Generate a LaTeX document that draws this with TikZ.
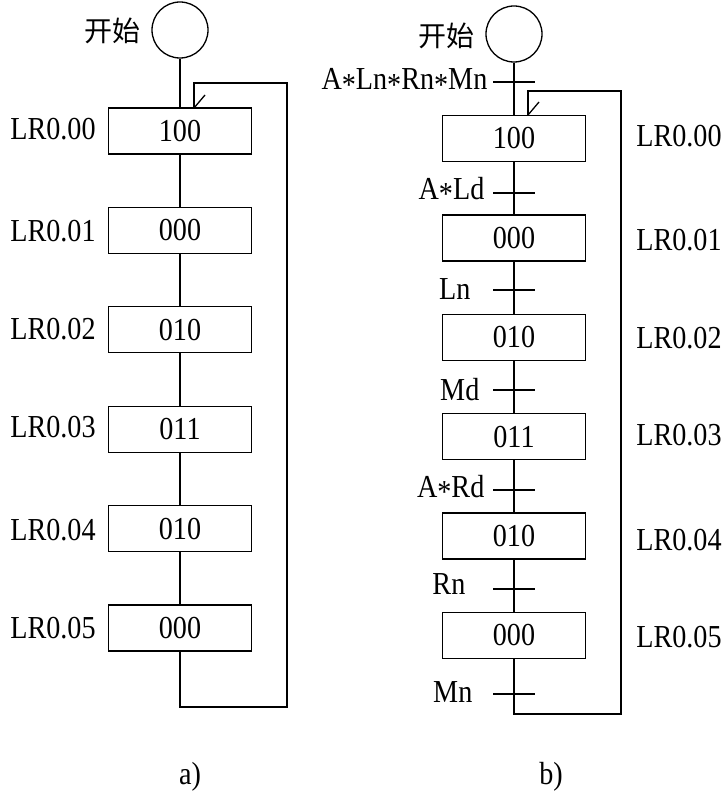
\documentclass[tikz,border=0pt]{standalone}
\usepackage{fontspec}
\setmainfont{Liberation Serif}[FakeStretch=0.88]
\newfontfamily\cjk{Noto Sans CJK SC}
\newcommand\lowstar{\raisebox{-0.18em}{*}}
\begin{document}
\begin{tikzpicture}[x=1pt,y=-1pt, line width=1.3pt,
  stbox/.style={draw, minimum width=143pt, minimum height=46pt, inner sep=0pt, font=\fontsize{32}{32}\selectfont},
  lbl/.style={font=\fontsize{32}{32}\selectfont, inner sep=0pt},
  startc/.style={draw, circle, minimum size=56pt, inner sep=0pt},
  cn/.style={font=\cjk\fontsize{28}{28}\selectfont, inner sep=0pt}]
\useasboundingbox (0,0) rectangle (725,799);

% ---------- a) ----------
\node[startc] (sa) at (180,30) {};
\node[cn] (ta) at (112,31) {开始};
\node[stbox] (a1) at (180,131) {100};
\node[stbox] (a2) at (180,230.4) {000};
\node[stbox] (a3) at (180,329.8) {010};
\node[stbox] (a4) at (180,429.2) {011};
\node[stbox] (a5) at (180,528.6) {010};
\node[stbox] (a6) at (180,628) {000};
\node[lbl] (la1) at (53,129) {LR0.00};
\node[lbl] (la2) at (53,231) {LR0.01};
\node[lbl] (la3) at (53,329) {LR0.02};
\node[lbl] (la4) at (53,427) {LR0.03};
\node[lbl] (la5) at (53,530) {LR0.04};
\node[lbl] (la6) at (53,628) {LR0.05};
\draw (sa.south) -- (sa.south |- a1.north);
\draw (a1.south) -- (a2.north);
\draw (a2.south) -- (a3.north);
\draw (a3.south) -- (a4.north);
\draw (a4.south) -- (a5.north);
\draw (a5.south) -- (a6.north);
\coordinate (ca1) at (180,707);
\coordinate (ca2) at (287,707);
\coordinate (ca3) at (287,83);
\coordinate (ca4) at (194,83);
\coordinate (ca5) at (194,108);
\draw (a6.south) -- (ca1) -- (ca2) -- (ca3) -- (ca4) -- (ca5);
\draw (ca5) -- ++(11,-13);
\node[lbl] (capa) at (190,777) {a)};

% ---------- b) ----------
\node[startc] (sb) at (514,34) {};
\node[cn] (tb) at (446,36) {开始};
\node[stbox] (b1) at (514,138.5) {100};
\node[stbox] (b2) at (514,237.9) {000};
\node[stbox] (b3) at (514,337.3) {010};
\node[stbox] (b4) at (514,436.7) {011};
\node[stbox] (b5) at (514,536.1) {010};
\node[stbox] (b6) at (514,635.5) {000};
\node[lbl] (lb1) at (679,136) {LR0.00};
\node[lbl] (lb2) at (679,240) {LR0.01};
\node[lbl] (lb3) at (679,338) {LR0.02};
\node[lbl] (lb4) at (679,435) {LR0.03};
\node[lbl] (lb5) at (679,540) {LR0.04};
\node[lbl] (lb6) at (679,637) {LR0.05};
\draw (sb.south) -- (sb.south |- b1.north);
\draw (b1.south) -- (b2.north);
\draw (b2.south) -- (b3.north);
\draw (b3.south) -- (b4.north);
\draw (b4.south) -- (b5.north);
\draw (b5.south) -- (b6.north);
\coordinate (cb1) at (514,714);
\coordinate (cb2) at (621,714);
\coordinate (cb3) at (621,91);
\coordinate (cb4) at (528,91);
\coordinate (cb5) at (528,115);
\draw (b6.south) -- (cb1) -- (cb2) -- (cb3) -- (cb4) -- (cb5);
\draw (cb5) -- ++(11,-13);
% transitions
\foreach \n/\y in {0/82,1/193,2/290,3/390,4/490,5/589,6/694}{
  \coordinate (t\n) at (514,\y);
  \draw ([xshift=-21pt]t\n) -- ([xshift=21pt]t\n);
}
\node[lbl, anchor=east] (tl0) at (488,82) {A\lowstar Ln\lowstar Rn\lowstar Mn};
\node[lbl, anchor=east] (tl1) at (485,191) {A\lowstar Ld};
\node[lbl, anchor=east] (tl2) at (471,289) {Ln};
\node[lbl, anchor=east] (tl3) at (480,390) {Md};
\node[lbl, anchor=east] (tl4) at (485,489) {A\lowstar Rd};
\node[lbl, anchor=east] (tl5) at (466,584) {Rn};
\node[lbl, anchor=east] (tl6) at (473,692) {Mn};
\node[lbl] (capb) at (551,777) {b)};
\end{tikzpicture}
\end{document}
